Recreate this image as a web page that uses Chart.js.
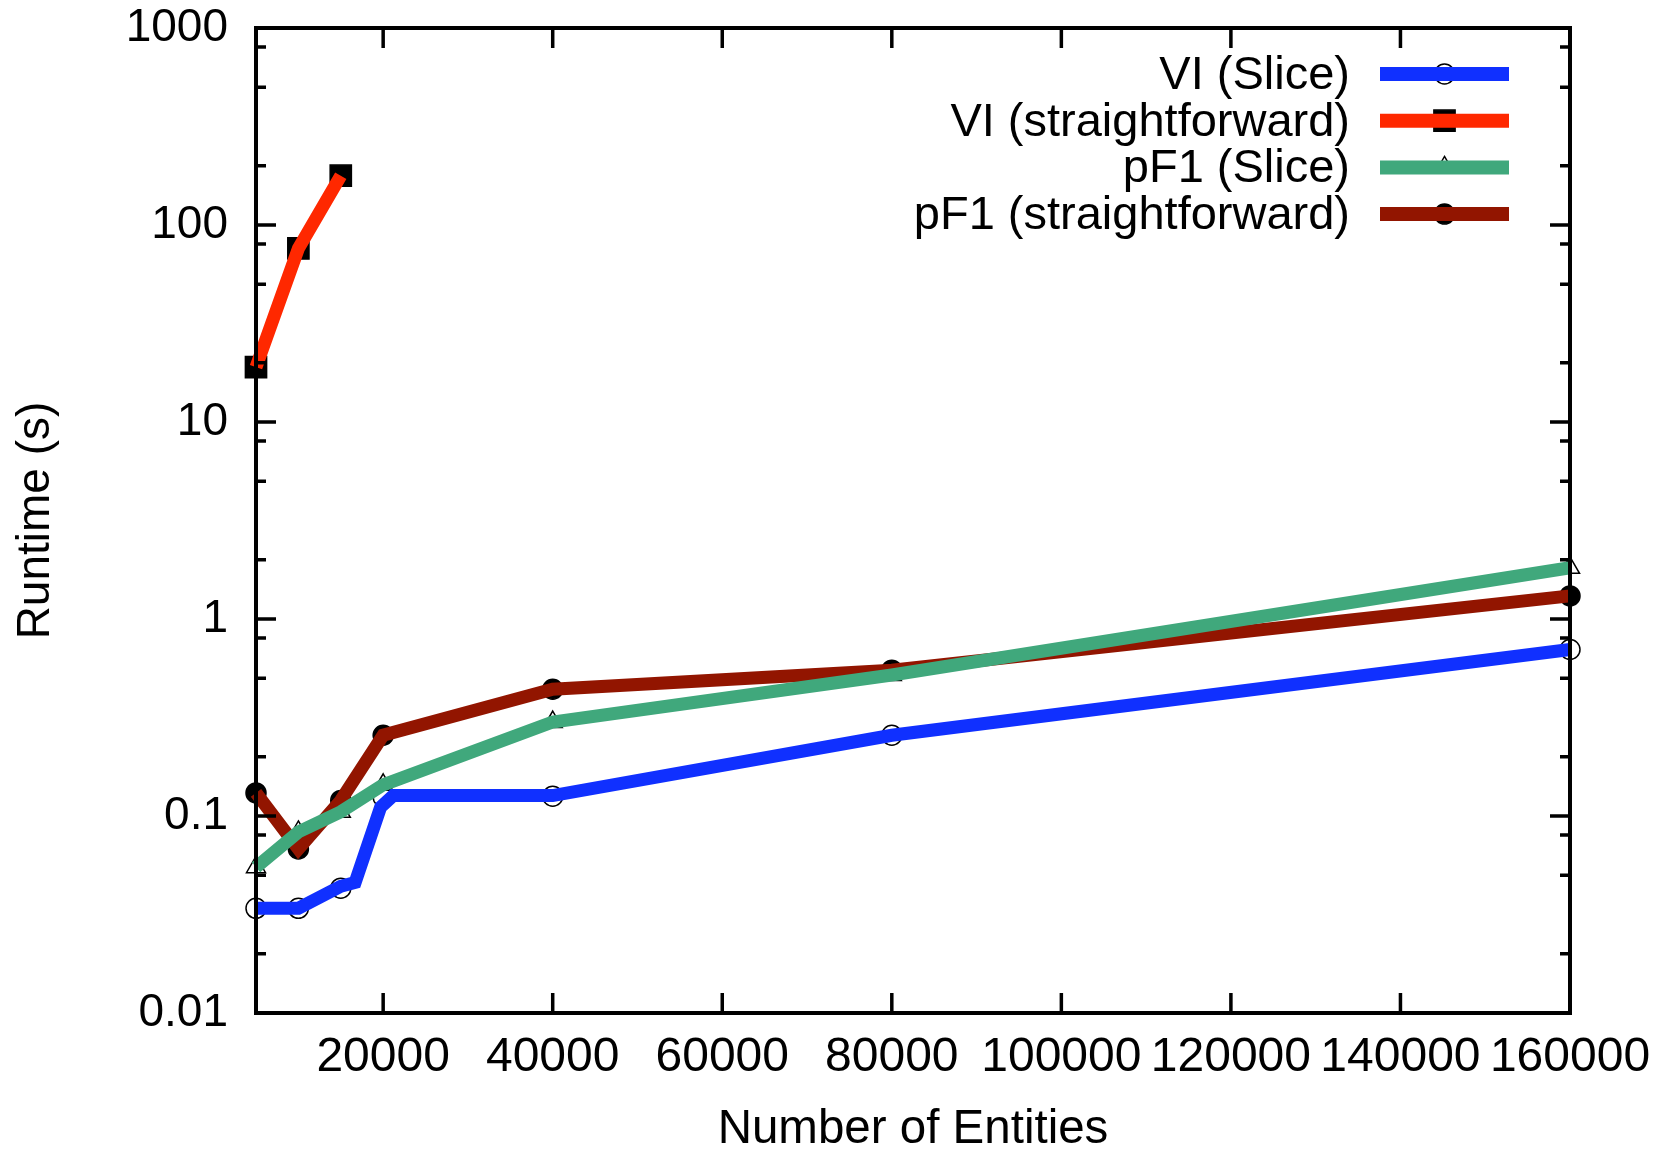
<!DOCTYPE html>
<html>
<head>
<meta charset="utf-8">
<title>Runtime vs Number of Entities</title>
<script src="https://cdn.jsdelivr.net/npm/chart.js@4.4.1/dist/chart.umd.min.js"></script>
<style>
  html, body { margin: 0; padding: 0; background: #fff; }
  canvas { display: block; }
</style>
</head>
<body>
<canvas id="runtime" width="1655" height="1151"></canvas>
<script>
// number of entities for each run
const entities = [5000, 10000, 15000, 20000, 40000, 80000, 160000];
const entitiesVIStraight = [5000, 10000, 15000];

// runtime in seconds, read at the markers
const viSlice = [0.034, 0.034, 0.043, 0.125, 0.126, 0.257, 0.70];
const viStraight = [19.0, 76, 178];
const pf1Slice = [0.055, 0.083, 0.105, 0.144, 0.30, 0.52, 1.82];
const pf1Straight = [0.131, 0.068, 0.12, 0.257, 0.44, 0.55, 1.31];

// the VI (Slice) line bends a bit off its markers between 15000 and 20000
const viSliceLineX = [5000, 10000, 15000, 16700, 19700, 21200, 40000, 80000, 160000];
const viSliceLineY = [0.034, 0.034, 0.044, 0.046, 0.111, 0.127, 0.127, 0.257, 0.70];

const seriesNames = ['VI (Slice)', 'VI (straightforward)', 'pF1 (Slice)', 'pF1 (straightforward)'];
const seriesColors = ['#1030ff', '#ff2800', '#40a87c', '#921500'];

const xTicks = [20000, 40000, 60000, 80000, 100000, 120000, 140000, 160000];
const yTicks = [0.01, 0.1, 1, 10, 100, 1000];
const yMinorSteps = [2, 5, 8];

const markers = [
  { pointStyle: 'circle', radius: 10, fill: 'rgba(0,0,0,0)' },
  { pointStyle: 'rect', radius: 15, fill: '#000' },
  { pointStyle: 'triangle', radius: 11, fill: 'rgba(0,0,0,0)' },
  { pointStyle: 'circle', radius: 10, fill: '#000' }
];

const pts = (xs, ys) => xs.map((x, i) => ({ x: x, y: ys[i] }));

const lineData = [
  pts(viSliceLineX, viSliceLineY),
  pts(entitiesVIStraight, viStraight),
  pts(entities, pf1Slice),
  pts(entities, pf1Straight)
];
const markerData = [
  pts(entities, viSlice),
  pts(entitiesVIStraight, viStraight),
  pts(entities, pf1Slice),
  pts(entities, pf1Straight)
];
// green on top, then dark red, red, blue
const lineOrder = [3, 2, 0, 1];

const datasets = [];
seriesNames.forEach((name, i) => {
  datasets.push({
    label: name,
    data: lineData[i],
    borderColor: seriesColors[i],
    borderWidth: 13,
    borderJoinStyle: 'miter',
    borderCapStyle: 'butt',
    pointRadius: 0,
    fill: false,
    tension: 0,
    clip: 30,
    order: lineOrder[i]
  });
});
seriesNames.forEach((name, i) => {
  datasets.push({
    label: name + ' points',
    data: markerData[i],
    showLine: false,
    pointStyle: markers[i].pointStyle,
    pointRadius: markers[i].radius,
    pointBackgroundColor: markers[i].fill,
    pointBorderColor: '#000',
    pointBorderWidth: 1.5,
    clip: 30,
    order: 10
  });
});

const FONT = '"Liberation Sans", Arial, sans-serif';
Chart.defaults.font.family = FONT;
Chart.defaults.color = '#000';

// gnuplot style frame with inward ticks on all four sides
const framePlugin = {
  id: 'frame',
  afterDatasetsDraw(chart) {
    const { ctx, chartArea: a, scales: { x, y } } = chart;
    ctx.save();
    ctx.strokeStyle = '#000';
    ctx.lineWidth = 3.5;
    ctx.lineCap = 'butt';
    ctx.beginPath();
    xTicks.forEach(v => {
      const px = x.getPixelForValue(v);
      ctx.moveTo(px, a.bottom); ctx.lineTo(px, a.bottom - 20);
      ctx.moveTo(px, a.top); ctx.lineTo(px, a.top + 20);
    });
    yTicks.forEach(v => {
      const py = y.getPixelForValue(v);
      ctx.moveTo(a.left, py); ctx.lineTo(a.left + 20, py);
      ctx.moveTo(a.right, py); ctx.lineTo(a.right - 20, py);
      if (v < 1000) {
        yMinorSteps.forEach(m => {
          const pm = y.getPixelForValue(v * m);
          ctx.moveTo(a.left, pm); ctx.lineTo(a.left + 10, pm);
          ctx.moveTo(a.right, pm); ctx.lineTo(a.right - 10, pm);
        });
      }
    });
    ctx.stroke();
    ctx.lineWidth = 4;
    ctx.strokeRect(a.left, a.top, a.right - a.left, a.bottom - a.top);
    ctx.restore();
  }
};

// legend: right aligned names, then a line sample with its marker
const keyPlugin = {
  id: 'key',
  afterDraw(chart) {
    const ctx = chart.ctx;
    const textRight = 1350, lineLeft = 1380, lineRight = 1509, top = 74, step = 46.7;
    ctx.save();
    ctx.font = '47px ' + FONT;
    ctx.textAlign = 'right';
    ctx.textBaseline = 'middle';
    seriesNames.forEach((name, i) => {
      const yy = top + i * step;
      ctx.fillStyle = '#000';
      ctx.fillText(name, textRight, yy + 2);
      ctx.fillStyle = markers[i].fill;
      ctx.strokeStyle = '#000';
      ctx.lineWidth = 1.5;
      Chart.helpers.drawPoint(ctx, { pointStyle: markers[i].pointStyle, radius: markers[i].radius, borderWidth: 1.5 },
        (lineLeft + lineRight) / 2, yy);
      ctx.strokeStyle = seriesColors[i];
      ctx.lineWidth = 14;
      ctx.beginPath();
      ctx.moveTo(lineLeft, yy);
      ctx.lineTo(lineRight, yy);
      ctx.stroke();
    });
    ctx.restore();
  }
};

new Chart(document.getElementById('runtime'), {
  type: 'line',
  data: { datasets: datasets },
  options: {
    responsive: false,
    animation: false,
    devicePixelRatio: 1,
    layout: { padding: { top: 28, right: 85, bottom: 0, left: 0 } },
    plugins: { legend: { display: false }, tooltip: { enabled: false } },
    scales: {
      x: {
        type: 'linear',
        min: 5000,
        max: 160000,
        grid: { display: false, drawTicks: false },
        border: { display: false },
        afterBuildTicks: scale => { scale.ticks = xTicks.map(v => ({ value: v })); },
        afterFit: scale => { scale.height = 138; scale.paddingLeft = 0; scale.paddingRight = 0; },
        ticks: {
          autoSkip: false,
          maxRotation: 0,
          padding: 16,
          font: { size: 48 },
          callback: v => String(v)
        },
        title: {
          display: true,
          text: 'Number of Entities',
          font: { size: 47.5, lineHeight: 0.9 },
          padding: { top: 0, bottom: 0 }
        }
      },
      y: {
        type: 'logarithmic',
        min: 0.01,
        max: 1000,
        grid: { display: false, drawTicks: false },
        border: { display: false },
        afterBuildTicks: scale => { scale.ticks = yTicks.map(v => ({ value: v })); },
        afterFit: scale => { scale.width = 256; scale.paddingTop = 0; scale.paddingBottom = 0; },
        ticks: {
          padding: 28,
          font: { size: 46 },
          callback: v => String(v)
        },
        title: {
          display: true,
          text: 'Runtime (s)',
          font: { size: 46, lineHeight: 1 },
          padding: { top: 13, bottom: 0 }
        }
      }
    }
  },
  plugins: [framePlugin, keyPlugin]
});
</script>
</body>
</html>
